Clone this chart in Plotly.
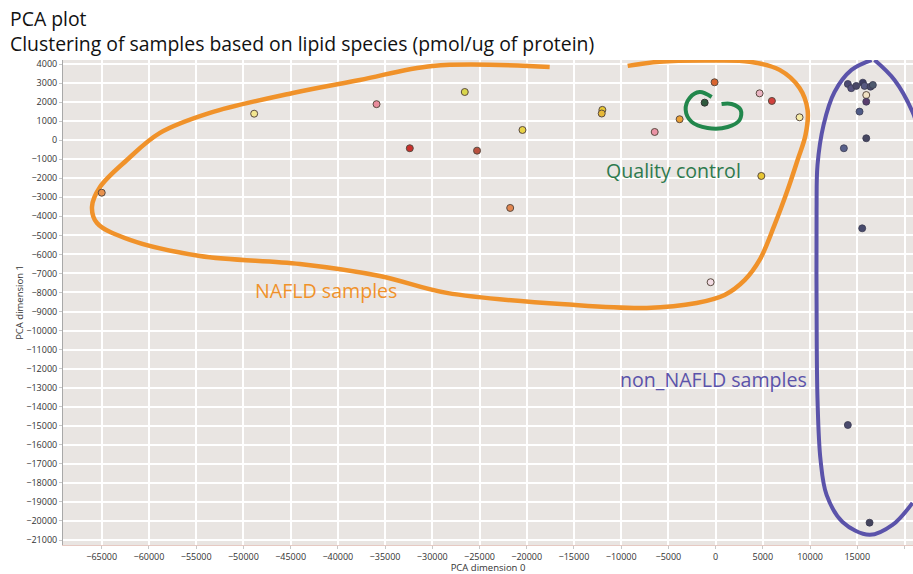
import plotly.graph_objects as go

# --- PCA scores: NAFLD samples (dimension 0, dimension 1) ---
nafld_x = [-65000, -48860, -35900, -26560, -32380, -25260, -20450, -21750,
           -11990, -12060, -6450, -3810, -110, 4660, 5960, 8890, 4840, -530, 15950]
nafld_y = [-2760, 1390, 1890, 2530, -425, -550, 535, -3560,
           1590, 1400, 430, 1100, 3040, 2460, 2060, 1200, -1880, -7460, 2370]
nafld_colors = ["#e8924e", "#f3e690", "#e98c9c", "#d9d64c", "#c9302c", "#b9503e",
                "#e8d246", "#e28650", "#e8c832", "#e6b838", "#ea92a4", "#eba034",
                "#d9642e", "#eab4c2", "#d2403c", "#f6eca6", "#e8c632", "#f2dce4",
                "#f1e2c4"]

# --- PCA scores: quality control ---
qc_x = [-1160]
qc_y = [1970]

# --- PCA scores: non-NAFLD samples ---
non_x = [14000, 14360, 14890, 15590, 15770, 16400, 16650,
         15950, 15240, 15950, 13580, 15520, 14000, 16300]
non_y = [2950, 2730, 2850, 3020, 2850, 2810, 2900,
         2020, 1500, 100, -425, -4630, -14960, -20090]
non_colors = ["#4c4a72", "#56527e", "#4a4868", "#3e3e64", "#585a82", "#4a4a6a", "#4e5a6e",
              "#5a3e6e", "#4e5a86", "#464660", "#58608a", "#474a6c", "#4a4a6c", "#44445e"]

# --- hand-drawn group outlines (data units) ---
nafld_loop_x = [-17570, -29950, -37670, -44760, -53540, -58830, -62330, -65180, -66030,
                -65500, -62010, -54600, -44020, -35560, -28470, -15130, -7300, -2010,
                950, 3070, 4660, 6240, 7620, 8680, 9520, 9740, 8890, 6770, 3600,
                -630, -5930, -9310]
nafld_loop_y = [3845, 3900, 3160, 2480, 1430, 380, -1040, -2460, -3500,
                -4350, -5240, -6080, -6500, -7130, -8020, -8650, -8810, -8550,
                -8130, -7350, -6290, -4450, -2620, -1040, 270, 1580, 2740, 3690, 4120,
                4180, 4120, 3900]

qc_loop_x = [-420, -1690, -2750, -3170, -2540, -850, 1270, 2540, 2650, 1690, 630]
qc_loop_y = [2270, 2530, 2220, 1590, 960, 640, 690, 1060, 1590, 1900, 1900]

non_loop_x = [16510, 14390, 12590, 11430, 10790, 10690, 10690, 10790, 11110,
              11750, 13440, 16300, 18730, 20850]
non_loop_y = [4210, 3690, 2530, 800, -1300, -3670, -8390, -13640, -16790,
              -18630, -20050, -20730, -20210, -19050]
non_loop2_x = [16830, 18940, 20850, 21500]
non_loop2_y = [4210, 3160, 1480, 500]

ORANGE = "#f0922a"
GREEN = "#22874c"
PURPLE = "#5b53aa"

fig = go.Figure()

# group outlines
fig.add_trace(go.Scatter(x=nafld_loop_x, y=nafld_loop_y, mode="lines",
                         line=dict(color=ORANGE, width=4.5, shape="spline", smoothing=1.0),
                         hoverinfo="skip"))
fig.add_trace(go.Scatter(x=qc_loop_x, y=qc_loop_y, mode="lines",
                         line=dict(color=GREEN, width=4, shape="spline", smoothing=1.0),
                         hoverinfo="skip"))
fig.add_trace(go.Scatter(x=non_loop_x, y=non_loop_y, mode="lines",
                         line=dict(color=PURPLE, width=4, shape="spline", smoothing=1.0),
                         hoverinfo="skip"))
fig.add_trace(go.Scatter(x=non_loop2_x, y=non_loop2_y, mode="lines",
                         line=dict(color=PURPLE, width=4, shape="spline", smoothing=1.0),
                         hoverinfo="skip"))

# sample points
fig.add_trace(go.Scatter(x=nafld_x, y=nafld_y, mode="markers", name="NAFLD",
                         marker=dict(size=7, color=nafld_colors,
                                     line=dict(color="#5a4a40", width=1))))
fig.add_trace(go.Scatter(x=qc_x, y=qc_y, mode="markers", name="QC",
                         marker=dict(size=7, color="#2f5a3e",
                                     line=dict(color="#333333", width=1))))
fig.add_trace(go.Scatter(x=non_x, y=non_y, mode="markers", name="non_NAFLD",
                         marker=dict(size=7, color=non_colors,
                                     line=dict(color="#3a3a50", width=0.8))))

FONT = "Open Sans"

# group labels
fig.add_annotation(x=-41270, y=-7870, text="NAFLD samples", showarrow=False,
                   font=dict(family=FONT, size=19.6, color=ORANGE))
fig.add_annotation(x=-4440, y=-1570, text="Quality control", showarrow=False,
                   font=dict(family=FONT, size=19.6, color="#2e7a4e"))
fig.add_annotation(x=-210, y=-12590, text="non_NAFLD samples", showarrow=False,
                   font=dict(family=FONT, size=19.6, color=PURPLE))

# titles
fig.add_annotation(xref="paper", yref="paper", x=0, y=1, xshift=-55, yshift=42,
                   xanchor="left", yanchor="middle", showarrow=False,
                   text="PCA plot", font=dict(family=FONT, size=19.4, color="#111111"))
fig.add_annotation(xref="paper", yref="paper", x=0, y=1, xshift=-55, yshift=17,
                   xanchor="left", yanchor="middle", showarrow=False,
                   text="Clustering of samples based on lipid species (pmol/ug of protein)",
                   font=dict(family=FONT, size=19.4, color="#111111"))

fig.update_layout(
    width=913, height=574,
    margin=dict(l=63, r=0, t=60, b=29),
    paper_bgcolor="white",
    plot_bgcolor="#e9e5e2",
    showlegend=False,
    font=dict(family=FONT, color="#333333"),
)
fig.update_xaxes(
    range=[-69100, 20900], tick0=0, dtick=5000, tickformat="d",
    showgrid=True, gridcolor="white", gridwidth=2,
    zeroline=False, showline=True, linecolor="#e6c9c2", linewidth=1,
    ticks="outside", ticklen=3, tickcolor="#c8c8c8",
    tickfont=dict(family=FONT, size=9, color="#333333"),
    title=dict(text="PCA dimension 0", font=dict(family=FONT, size=9.5, color="#333333"),
               standoff=2),
)
fig.update_yaxes(
    range=[-21262, 4210], tick0=0, dtick=1000, tickformat="d",
    showgrid=True, gridcolor="white", gridwidth=1.5,
    zeroline=False, showline=True, linecolor="#a8a8a8", linewidth=1,
    ticks="outside", ticklen=3, tickcolor="#c8c8c8",
    tickfont=dict(family=FONT, size=9, color="#333333"),
    title=dict(text="PCA dimension 1", font=dict(family=FONT, size=9.5, color="#333333"),
               standoff=0),
)

fig.write_html("out.html")
